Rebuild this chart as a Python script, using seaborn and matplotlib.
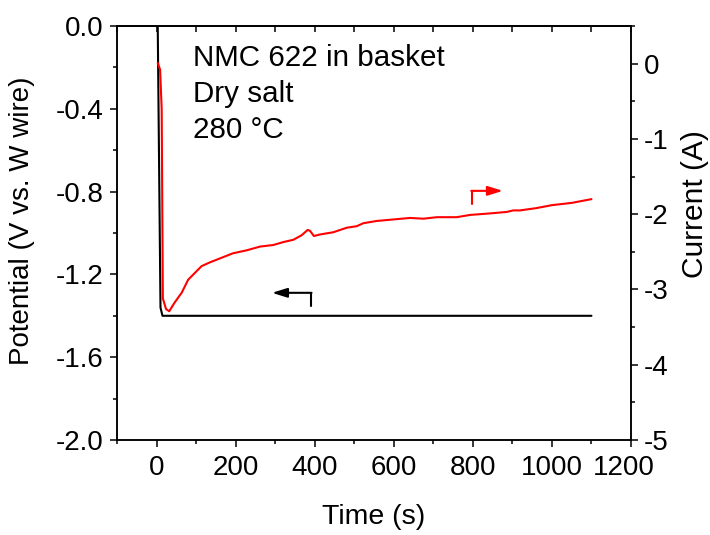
import numpy as np
import pandas as pd
import matplotlib
matplotlib.use("Agg")
import matplotlib.pyplot as plt
import matplotlib.transforms as mtransforms
import seaborn as sns
from matplotlib.ticker import MultipleLocator, FormatStrFormatter

# ---- data ----
pot_time = [0, 2, 10, 15, 200, 600, 1100]
pot_value = [0.3, 0.2, -1.36, -1.40, -1.40, -1.40, -1.40]

cur_time = [3, 9, 13, 16, 24, 32, 45, 64, 80, 114, 135, 193, 228, 262, 295, 321, 346,
            367, 382, 388, 398, 413, 447, 481, 506, 523, 557, 599, 641, 675, 709,
            759, 793, 843, 886, 902, 919, 960, 1000, 1050, 1100]
cur_value = [0.01, -0.08, -0.6, -3.12, -3.26, -3.29, -3.18, -3.04, -2.87, -2.69, -2.64,
             -2.52, -2.48, -2.43, -2.41, -2.37, -2.34, -2.28, -2.21, -2.22, -2.29, -2.27,
             -2.24, -2.18, -2.16, -2.12, -2.09, -2.07, -2.05, -2.06, -2.04, -2.04, -2.01,
             -1.99, -1.97, -1.95, -1.95, -1.92, -1.88, -1.85, -1.80]

annot_lines = ["NMC 622 in basket", "Dry salt", "280 \u00b0C"]
x_label = "Time (s)"
y_left_label = "Potential (V vs. W wire)"
y_right_label = "Current (A)"

# ---- style ----
sns.set_style("ticks")
plt.rcParams["font.family"] = ["Liberation Sans", "DejaVu Sans"]
plt.rcParams["axes.linewidth"] = 1.1
plt.rcParams["axes.unicode_minus"] = False
for key in ["text.color", "axes.labelcolor", "xtick.color", "ytick.color", "axes.edgecolor"]:
    plt.rcParams[key] = "black"

fig = plt.figure(figsize=(7.1, 5.35), dpi=100)
ax = fig.add_axes([117/710, 1-440/535, (631-117)/710, (440-26)/535])

df_p = pd.DataFrame({"t": pot_time, "v": pot_value})
df_c = pd.DataFrame({"t": cur_time, "i": cur_value})

sns.lineplot(data=df_p, x="t", y="v", ax=ax, color="black", lw=1.5, sort=False)
ax.set_xlim(-100, 1200)
ax.set_ylim(-2.0, 0.0)

ax2 = ax.twinx()
sns.lineplot(data=df_c, x="t", y="i", ax=ax2, color="#ff0000", lw=1.5, sort=False)
ax2.set_ylim(-5, 0.5)
ax2.set_xlim(-100, 1200)

tfs = 20
ax.set_xlabel(x_label, fontsize=20.5)
ax.set_ylabel(y_left_label, fontsize=20)
ax2.set_ylabel(y_right_label, fontsize=21.5)
ax.xaxis.set_label_coords(0.5, -0.155)
ax.yaxis.set_label_coords(-0.16, 0.53)
ax2.yaxis.set_label_coords(1.097, 0.57)

ax.xaxis.set_major_locator(MultipleLocator(200))
ax.xaxis.set_minor_locator(MultipleLocator(100))
ax.yaxis.set_major_locator(MultipleLocator(0.4))
ax.yaxis.set_minor_locator(MultipleLocator(0.2))
ax.yaxis.set_major_formatter(FormatStrFormatter("%.1f"))
ax2.yaxis.set_major_locator(MultipleLocator(1))
ax2.yaxis.set_minor_locator(MultipleLocator(0.5))
ax2.yaxis.set_major_formatter(FormatStrFormatter("%d"))

ax.tick_params(axis="x", which="major", direction="out", length=5, width=1.1,
               labelsize=tfs, pad=5.5, top=False)
ax.tick_params(axis="x", which="minor", direction="out", length=3, width=1.1, top=False)
ax.tick_params(axis="y", which="major", direction="out", length=5, width=1.1,
               labelsize=tfs, pad=4.5)
ax.tick_params(axis="y", which="minor", direction="out", length=3, width=1.1)
ax2.tick_params(axis="y", which="major", direction="out", length=5, width=1.1,
                labelsize=tfs, pad=4)
ax2.tick_params(axis="y", which="minor", direction="out", length=3, width=1.1)

# top inward ticks
secx = ax.secondary_xaxis("top")
secx.xaxis.set_major_locator(MultipleLocator(100))
secx.tick_params(axis="x", direction="in", length=4.3, width=1.1, labeltop=False)
secx.set_xticklabels([])
secx.spines["top"].set_linewidth(1.1)

for s in ["top", "right", "left", "bottom"]:
    ax.spines[s].set_visible(True)
    ax2.spines[s].set_visible(True)

# nudge the last x tick label (1200) slightly left, as in the reference
fig.canvas.draw()
for lab in ax.get_xticklabels():
    if lab.get_text() == "1200":
        lab.set_transform(lab.get_transform() +
                          mtransforms.ScaledTranslation(-7/100, 0, fig.dpi_scale_trans))

# annotation text
for k, line in enumerate(annot_lines):
    ax.text(0.147, 0.9034 - k * 0.0873, line, transform=ax.transAxes, fontsize=21.3,
            ha="left", va="baseline")

# arrows
ax2.plot([797, 797], [-1.87, -1.69], color="#ff0000", lw=1.5)
ax2.annotate("", xy=(876, -1.69), xytext=(796, -1.69),
             arrowprops=dict(arrowstyle="-|>,head_length=0.9,head_width=0.28",
                             color="#ff0000", lw=1.5, shrinkA=0, shrinkB=0))
ax.plot([391, 391], [-1.353, -1.289], color="black", lw=1.5)
ax.annotate("", xy=(292, -1.289), xytext=(392, -1.289),
            arrowprops=dict(arrowstyle="-|>,head_length=0.9,head_width=0.28",
                            color="black", lw=1.5, shrinkA=0, shrinkB=0))

fig.savefig("out.png", dpi=100)
